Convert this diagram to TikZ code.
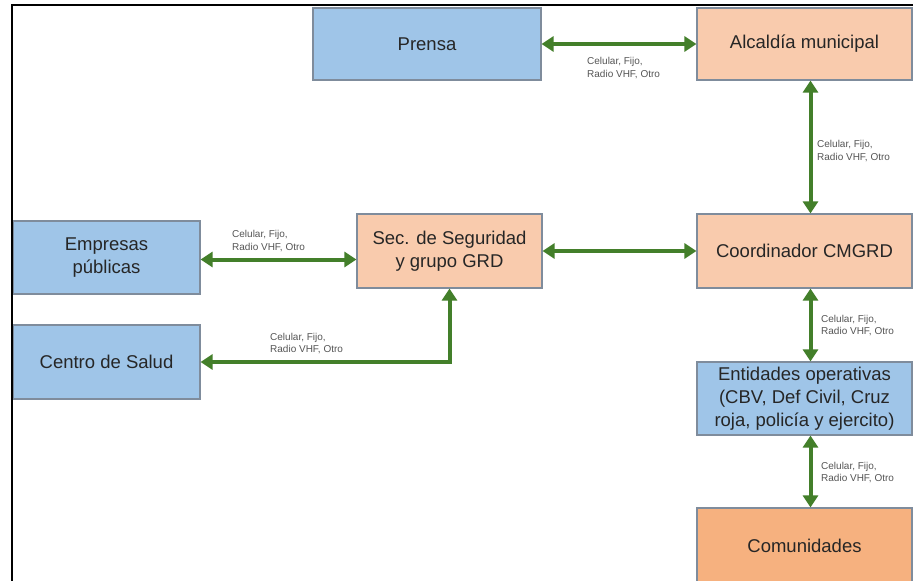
\documentclass[tikz,border=0pt]{standalone}
\usepackage{fontspec}
\setmainfont{Liberation Sans}
\usetikzlibrary{arrows.meta}
\definecolor{bluefill}{HTML}{9FC5E8}
\definecolor{peach}{HTML}{F9CBAD}
\definecolor{peachdark}{HTML}{F6B17F}
\definecolor{boxline}{HTML}{7F8C9C}
\definecolor{arrowgreen}{HTML}{437F2A}
\definecolor{textdark}{HTML}{262626}
\definecolor{labelgray}{HTML}{555555}
\tikzset{
  box/.style={draw=boxline, line width=1.2pt, rectangle, inner sep=2pt, align=center,
    text=textdark, font=\fontsize{18.5}{23}\selectfont},
  bluebox/.style={box, fill=bluefill},
  peachbox/.style={box, fill=peach},
  link/.style={draw=arrowgreen, line width=4pt,
    {Triangle[width=15pt,length=12pt]}-{Triangle[width=15pt,length=12pt]}},
  lbl/.style={anchor=west, align=left, inner sep=0pt, text=labelgray,
    font=\fontsize{10}{12.5}\selectfont}
}
\begin{document}
\begin{tikzpicture}[x=1pt,y=-1pt]
\useasboundingbox (0,0) rectangle (916,581);
\fill[white] (0,0) rectangle (916,581);
\begin{scope}
\clip (0,0) rectangle (916,581);
\node[bluebox, minimum width=228pt, minimum height=72pt] (prensa) at (427,44) {Prensa};
\node[peachbox, minimum width=215pt, minimum height=72pt] (alcaldia) at (804.5,44) {Alcaldía municipal};
\node[peachbox, minimum width=185pt, minimum height=74pt] (sec) at (449.5,251) {Sec. de Seguridad\\y grupo GRD};
\node[peachbox, minimum width=215pt, minimum height=74pt] (coord) at (804.5,251) {Coordinador CMGRD};
\node[bluebox, minimum width=187pt, minimum height=73pt] (empresas) at (106.5,257.5) {Empresas\\públicas};
\node[bluebox, minimum width=187pt, minimum height=74pt] (centro) at (106.5,362) {Centro de Salud};
\node[bluebox, minimum width=215pt, minimum height=73pt] (entidades) at (804.5,398.5) {Entidades operativas\\(CBV, Def Civil, Cruz\\roja, policía y ejercito)};
\node[box, fill=peachdark, minimum width=215pt, minimum height=76pt] (comunidades) at (804.5,546) {Comunidades};
\end{scope}

\draw[link] (prensa.east) -- (alcaldia.west);
\draw[link] ([xshift=6pt]alcaldia.south) -- ([xshift=6pt]coord.north);
\draw[link] (sec.east) -- (coord.west);
\draw[link] ([yshift=-2pt]empresas.east) -- ([yshift=-2pt]empresas.east -| sec.west);
\draw[link] (sec.south) |- (centro.east);
\draw[link] ([xshift=6pt]coord.south) -- ([xshift=6pt]entidades.north);
\draw[link] ([xshift=6pt]entidades.south) -- ([xshift=6pt]comunidades.north);

\node[lbl] (l1) at (587,68) {Celular, Fijo,\\Radio VHF, Otro};
\node[lbl] (l2) at (817,151) {Celular, Fijo,\\Radio VHF, Otro};
\node[lbl] (l3) at (232,241) {Celular, Fijo,\\Radio VHF, Otro};
\node[lbl] (l4) at (270,343.5) {Celular, Fijo,\\Radio VHF, Otro};
\node[lbl] (l5) at (821,325.5) {Celular, Fijo,\\Radio VHF, Otro};
\node[lbl] (l6) at (821,472.5) {Celular, Fijo,\\Radio VHF, Otro};

\coordinate (fbl) at (12,582);
\coordinate (ftl) at (12,5);
\coordinate (ftr) at (913,5);
\draw[black, line width=2pt] (fbl) -- (ftl) -- (ftr);
\end{tikzpicture}
\end{document}
